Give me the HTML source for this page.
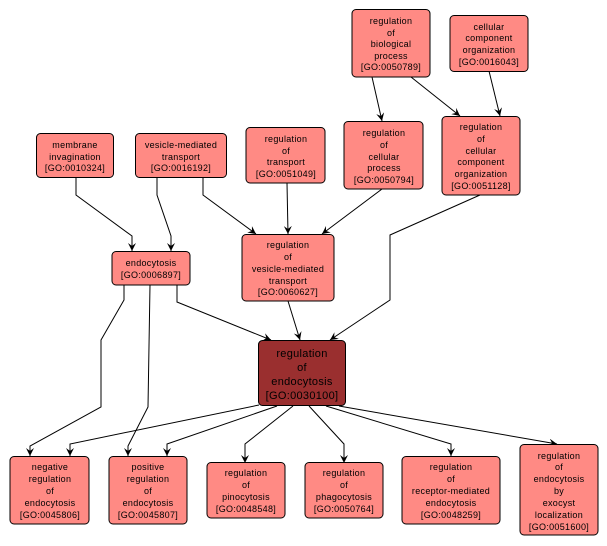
<!DOCTYPE html>
<html><head><style>body{margin:0;background:#fff}svg{display:block}text{font-family:"Liberation Sans",sans-serif;font-size:9px;fill:#000;text-anchor:middle;letter-spacing:0.3px}</style></head><body>
<svg width="607" height="546" viewBox="0 0 607 546" xmlns="http://www.w3.org/2000/svg">
<defs><marker id="a" markerWidth="10" markerHeight="10" refX="8" refY="4" orient="auto" markerUnits="userSpaceOnUse"><path d="M0,0 L8,4 L0,8 L3,4 Z" fill="#000"/></marker></defs>
<g fill="none" stroke="#000" stroke-width="1" marker-end="url(#a)">
<path d="M372,77 L382,121"/>
<path d="M411,77 L460,116"/>
<path d="M489,71 L500,116"/>
<path d="M76,178 L76,195 L132,236 L132,251"/>
<path d="M157,178 L157,195 L171,236 L171,251"/>
<path d="M203,178 L203,195 L256,234"/>
<path d="M287,183 L288,234"/>
<path d="M382,189 L322,234"/>
<path d="M480,195 L390,235 L390,300 L330,340"/>
<path d="M177,285 L177,302 L271,340"/>
<path d="M288,301 L300,340"/>
<path d="M124,285 L124,300 L101,340 L101,407 L30,446 L30,456"/>
<path d="M150,285 L148,407 L128,446 L128,456"/>
<path d="M259,405 L70,444 L70,456"/>
<path d="M277,406 L167,444 L167,456"/>
<path d="M293,406 L245,444 L245,463"/>
<path d="M309,406 L344,444 L344,463"/>
<path d="M326,406 L451,444 L451,456"/>
<path d="M339,406 L557,444"/>
</g>
<g fill="#ff8a84" stroke="#000" stroke-width="1">
<rect x="352" y="9.5" width="78" height="67.5" rx="4"/>
<rect x="450" y="15.5" width="78" height="56" rx="4"/>
<rect x="36.5" y="133.5" width="77" height="44" rx="4"/>
<rect x="135.5" y="133.5" width="91" height="44" rx="4"/>
<rect x="246" y="127.5" width="79" height="55.5" rx="4"/>
<rect x="344" y="121.5" width="79" height="67.5" rx="4"/>
<rect x="442" y="116.5" width="78" height="78.5" rx="4"/>
<rect x="112" y="251.5" width="78" height="33.5" rx="4"/>
<rect x="242" y="234.5" width="92" height="66.5" rx="4"/>
<rect x="10" y="456.5" width="79" height="67.5" rx="4"/>
<rect x="109" y="456.5" width="78" height="67.5" rx="4"/>
<rect x="207" y="462.5" width="78" height="55.5" rx="4"/>
<rect x="305" y="462.5" width="78" height="55.5" rx="4"/>
<rect x="402" y="456.5" width="98" height="67.5" rx="4"/>
<rect x="520" y="444.5" width="78" height="90.5" rx="4"/>
</g>
<rect x="258.5" y="340.5" width="87" height="65" rx="4" fill="#9a2f2f" stroke="#000"/>
<text x="391" y="24">regulation</text><text x="391" y="36">of</text><text x="391" y="47">biological</text><text x="391" y="59">process</text><text x="391" y="70">[GO:0050789]</text>
<text x="489" y="30">cellular</text><text x="489" y="41">component</text><text x="489" y="53">organization</text><text x="489" y="65">[GO:0016043]</text>
<text x="75" y="148">membrane</text><text x="75" y="160">invagination</text><text x="75" y="171">[GO:0010324]</text>
<text x="181" y="148">vesicle-mediated</text><text x="181" y="160">transport</text><text x="181" y="171">[GO:0016192]</text>
<text x="286" y="142">regulation</text><text x="286" y="154">of</text><text x="286" y="165">transport</text><text x="286" y="177">[GO:0051049]</text>
<text x="384" y="136">regulation</text><text x="384" y="148">of</text><text x="384" y="160">cellular</text><text x="384" y="171">process</text><text x="384" y="183">[GO:0050794]</text>
<text x="481" y="130">regulation</text><text x="481" y="142">of</text><text x="481" y="154">cellular</text><text x="481" y="165">component</text><text x="481" y="177">organization</text><text x="481" y="189">[GO:0051128]</text>
<text x="151" y="266">endocytosis</text><text x="151" y="278">[GO:0006897]</text>
<text x="288" y="248">regulation</text><text x="288" y="260">of</text><text x="288" y="272">vesicle-mediated</text><text x="288" y="284">transport</text><text x="288" y="295">[GO:0060627]</text>
<g style="font-size:11px;fill:#fff"><text x="302" y="357" fill="#fff" style="font-size:11px">regulation</text><text x="302" y="371" fill="#fff" style="font-size:11px">of</text><text x="302" y="385" fill="#fff" style="font-size:11px">endocytosis</text><text x="302" y="399" fill="#fff" style="font-size:11px">[GO:0030100]</text></g>
<text x="50" y="470">negative</text><text x="50" y="482">regulation</text><text x="50" y="494">of</text><text x="50" y="506">endocytosis</text><text x="50" y="518">[GO:0045806]</text>
<text x="148" y="470">positive</text><text x="148" y="482">regulation</text><text x="148" y="494">of</text><text x="148" y="506">endocytosis</text><text x="148" y="518">[GO:0045807]</text>
<text x="246" y="476">regulation</text><text x="246" y="488">of</text><text x="246" y="500">pinocytosis</text><text x="246" y="512">[GO:0048548]</text>
<text x="344" y="476">regulation</text><text x="344" y="488">of</text><text x="344" y="500">phagocytosis</text><text x="344" y="512">[GO:0050764]</text>
<text x="451" y="470">regulation</text><text x="451" y="482">of</text><text x="451" y="494">receptor-mediated</text><text x="451" y="506">endocytosis</text><text x="451" y="518">[GO:0048259]</text>
<text x="559" y="459">regulation</text><text x="559" y="470">of</text><text x="559" y="482">endocytosis</text><text x="559" y="494">by</text><text x="559" y="506">exocyst</text><text x="559" y="518">localization</text><text x="559" y="530">[GO:0051600]</text>
</svg>
</body></html>
